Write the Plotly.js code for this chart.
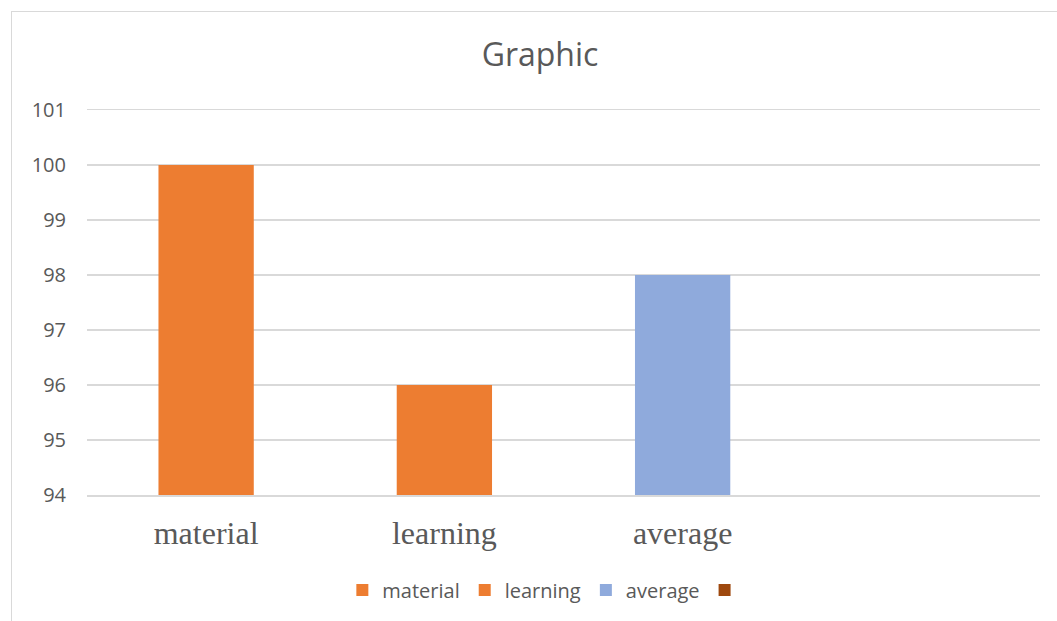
<!DOCTYPE html>
<html>
<head>
<meta charset="utf-8">
<script src="https://cdn.plot.ly/plotly-3.0.1.min.js"></script>
<style>
  html, body { margin: 0; padding: 0; overflow: hidden; background: #fff; }
  #chart { position: absolute; left: 0; top: 0; width: 1057px; height: 621px; }
  #frame { position: absolute; left: 11px; top: 11px; width: 1100px; height: 700px;
           border-left: 1.5px solid #d9d9d9; border-top: 1.5px solid #d9d9d9;
           pointer-events: none; box-sizing: border-box; }
</style>
</head>
<body>
<div id="chart"></div>
<div id="frame"></div>
<script>
const categories = ["material", "learning", "average", ""];
const seriesNames = ["material", "learning", "average", ""];
const values = [100, 96, 98, null];
const colors = ["#ED7D31", "#ED7D31", "#8FAADC", "#9E480E"];

const traces = categories.map((c, i) => ({
  type: "bar",
  x: [i],
  y: [values[i]],
  name: seriesNames[i],
  marker: { color: colors[i] },
  width: 0.4,
  hoverinfo: "y"
}));

const layout = {
  width: 1057,
  height: 621,
  margin: { l: 87, r: 17, t: 110, b: 126 },
  paper_bgcolor: "#fff",
  plot_bgcolor: "#fff",
  barmode: "overlay",
  title: {
    text: "Graphic",
    font: { family: "Open Sans", size: 32, color: "#595959" },
    x: 540 / 1057, xanchor: "center",
    y: 1 - 55 / 621, yanchor: "middle"
  },
  xaxis: {
    range: [-0.5, 3.5],
    tickmode: "array",
    tickvals: categories.map((c, i) => i),
    ticktext: categories,
    tickfont: { family: "Liberation Serif", size: 32, color: "#595959" },
    showgrid: false,
    zeroline: false,
    showline: true,
    mirror: true,
    linecolor: "#d9d9d9",
    linewidth: 1.5,
    ticks: "",
    ticklabelstandoff: 9,
    fixedrange: true
  },
  yaxis: {
    range: [94, 101],
    dtick: 1,
    tick0: 94,
    tickfont: { family: "Open Sans", size: 20, color: "#595959" },
    gridcolor: "#d9d9d9",
    gridwidth: 1.5,
    zeroline: false,
    showline: false,
    ticks: "",
    ticklabelstandoff: 20,
    fixedrange: true
  },
  showlegend: true,
  legend: {
    orientation: "h",
    x: 0.482, xanchor: "center",
    y: -95 / 385, yanchor: "middle",
    font: { family: "Open Sans", size: 20, color: "#595959" },
    itemwidth: 30,
    traceorder: "normal"
  }
};

Plotly.newPlot("chart", traces, layout, { displayModeBar: false, staticPlot: true });
</script>
</body>
</html>
